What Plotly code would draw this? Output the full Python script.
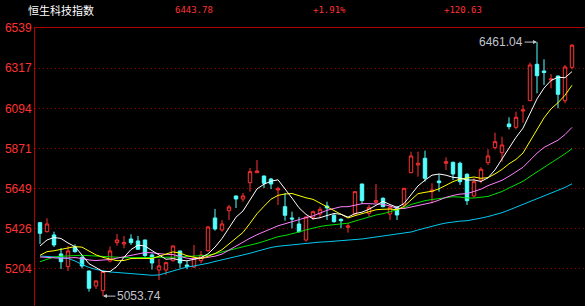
import plotly.graph_objects as go

# ---------------- data ----------------
title = "恒生科技指数"
last_price = "6443.78"
pct_change = "+1.91%"
abs_change = "+120.63"

opens = [5460.6, 5410.7, 5392.4, 5287.2, 5216.9, 5326.0, 5267.8, 5193.0, 5109.9, 5083.9,
         5248.4, 5349.8, 5342.6, 5370.3, 5359.2, 5364.7, 5281.7, 5198.6, 5198.6, 5250.1,
         5303.8, 5226.3, 5215.2, 5250.1, 5305.5, 5486.6, 5420.1, 5527.0, 5608.5, 5591.8,
         5682.1, 5737.5, 5719.2, 5702.6, 5641.7, 5549.2, 5486.6, 5453.4, 5364.7, 5490.5,
         5508.8, 5553.1, 5501.6, 5479.4, 5435.1, 5508.8, 5674.9, 5512.6, 5573.6, 5595.7,
         5508.8, 5545.9, 5558.6, 5737.5, 5780.2, 5817.3, 5632.3, 5691.5, 5789.6, 5795.1,
         5789.6, 5728.7, 5608.5, 5697.1, 5792.9, 5876.0, 5848.3, 6007.3, 5989.0, 6079.3,
         6136.3, 6337.9, 6300.8, 6251.0, 6273.1, 6136.3, 6321.3]
highs = [5465.0, 5484.9, 5410.7, 5320.4, 5331.5, 5340.9, 5278.9, 5195.8, 5143.2, 5193.0,
         5328.7, 5398.0, 5386.9, 5396.3, 5386.9, 5366.0, 5290.0, 5259.5, 5244.5, 5334.3,
         5305.0, 5250.1, 5337.0, 5303.8, 5442.3, 5536.4, 5475.5, 5558.6, 5610.0, 5625.1,
         5763.5, 5807.9, 5721.0, 5708.2, 5660.0, 5625.1, 5521.5, 5492.1, 5494.0, 5527.0,
         5549.2, 5576.9, 5512.6, 5484.9, 5457.2, 5634.0, 5676.0, 5558.6, 5674.9, 5601.2,
         5558.6, 5553.1, 5652.0, 5853.8, 5853.8, 5859.4, 5678.8, 5728.7, 5822.8, 5798.4,
         5798.4, 5734.2, 5706.5, 5767.4, 5867.1, 5959.1, 5936.9, 6044.4, 6075.4, 6112.5,
         6346.8, 6461.04, 6365.6, 6284.2, 6275.0, 6334.1, 6450.4]
lows = [5342.6, 5406.3, 5326.0, 5204.1, 5193.0, 5294.4, 5206.9, 5078.4, 5093.3, 5053.74,
        5240.1, 5333.2, 5318.8, 5337.0, 5309.3, 5270.6, 5201.3, 5143.2, 5170.9, 5244.5,
        5209.6, 5202.5, 5209.6, 5235.7, 5299.9, 5416.2, 5410.7, 5475.5, 5542.0, 5576.9,
        5632.3, 5735.9, 5652.8, 5647.2, 5558.6, 5471.6, 5429.5, 5405.2, 5355.3, 5475.5,
        5484.9, 5475.5, 5460.6, 5429.5, 5405.2, 5503.2, 5564.1, 5493.8, 5568.0, 5545.9,
        5475.5, 5475.5, 5554.7, 5734.2, 5715.4, 5687.7, 5568.0, 5632.3, 5752.5, 5697.1,
        5669.4, 5558.6, 5601.2, 5678.8, 5780.2, 5867.1, 5798.4, 5977.9, 5977.9, 6014.5,
        6134.0, 6177.3, 6223.3, 6205.0, 6094.2, 6121.9, 6310.2]
closes = [5401.8, 5453.4, 5337.0, 5244.5, 5303.8, 5299.9, 5220.7, 5097.2, 5137.6, 5190.3,
          5303.8, 5364.7, 5349.8, 5349.8, 5313.2, 5278.9, 5237.3, 5220.7, 5239.0, 5331.5,
          5237.3, 5218.0, 5265.0, 5281.7, 5436.7, 5425.7, 5453.4, 5547.5, 5591.8, 5608.5,
          5743.1, 5746.9, 5678.8, 5674.9, 5647.2, 5501.6, 5481.1, 5410.7, 5492.1, 5521.5,
          5534.8, 5542.0, 5466.1, 5471.6, 5442.3, 5632.3, 5582.4, 5545.9, 5582.4, 5549.2,
          5545.9, 5503.2, 5651.1, 5830.0, 5789.6, 5706.5, 5641.7, 5682.1, 5798.4, 5730.3,
          5687.7, 5582.4, 5687.7, 5756.4, 5830.0, 5909.2, 5890.9, 5992.3, 6044.4, 6084.8,
          6334.1, 6274.8, 6292.5, 6256.5, 6171.8, 6323.15, 6443.78]

ma5 = [5331.5, 5364.7, 5378.6, 5373.0, 5348.1, 5327.7, 5281.2, 5233.2, 5211.8, 5189.1,
       5189.9, 5218.7, 5269.2, 5311.7, 5336.3, 5331.1, 5305.8, 5280.0, 5257.8, 5261.5,
       5253.2, 5249.3, 5258.2, 5266.7, 5287.7, 5325.4, 5372.5, 5429.0, 5491.0, 5525.4,
       5588.9, 5647.6, 5673.8, 5690.4, 5698.2, 5649.9, 5596.7, 5543.1, 5506.5, 5481.4,
       5488.0, 5500.2, 5511.3, 5507.2, 5491.4, 5510.9, 5518.9, 5534.9, 5557.1, 5578.4,
       5561.2, 5545.3, 5566.4, 5615.9, 5664.0, 5696.1, 5723.8, 5730.0, 5723.7, 5711.8,
       5708.0, 5696.2, 5697.3, 5688.9, 5708.8, 5753.1, 5814.8, 5875.8, 5933.4, 5984.3,
       6069.3, 6146.1, 6206.1, 6248.5, 6265.9, 6263.8, 6297.5]
ma10 = [5280.0, 5300.0, 5305.0, 5312.0, 5320.0, 5328.0, 5325.0, 5305.0, 5282.0, 5268.6,
        5258.8, 5250.0, 5251.2, 5261.8, 5262.7, 5260.5, 5262.3, 5274.6, 5284.8, 5298.9,
        5292.2, 5277.6, 5269.1, 5262.3, 5274.6, 5289.3, 5310.9, 5343.6, 5378.9, 5406.6,
        5457.2, 5510.1, 5551.4, 5590.7, 5611.8, 5619.4, 5622.2, 5608.5, 5598.5, 5589.8,
        5569.0, 5548.5, 5527.2, 5506.9, 5486.4, 5499.5, 5509.6, 5523.1, 5532.2, 5534.9,
        5536.1, 5532.1, 5550.7, 5586.5, 5621.2, 5628.7, 5634.6, 5648.2, 5669.8, 5687.9,
        5702.1, 5710.0, 5713.7, 5706.3, 5710.3, 5730.6, 5755.5, 5786.6, 5811.2, 5846.6,
        5911.2, 5980.5, 6041.0, 6091.0, 6125.1, 6166.6, 6221.8]
ma20 = [5270.6, 5267.8, 5265.0, 5263.4, 5265.0, 5267.3, 5262.3, 5254.0, 5250.7, 5251.8,
        5256.8, 5264.0, 5272.2, 5281.7, 5290.0, 5295.0, 5293.9, 5288.3, 5285.0, 5283.8,
        5275.5, 5263.8, 5260.2, 5262.1, 5268.7, 5274.9, 5286.6, 5309.1, 5331.9, 5352.8,
        5374.7, 5393.9, 5410.3, 5426.5, 5443.2, 5454.4, 5466.6, 5476.1, 5488.7, 5498.2,
        5513.1, 5529.3, 5539.3, 5548.8, 5549.1, 5559.5, 5565.9, 5565.8, 5565.4, 5562.4,
        5552.6, 5540.3, 5539.0, 5546.7, 5553.8, 5564.1, 5572.1, 5585.7, 5601.0, 5611.4,
        5619.1, 5621.1, 5632.2, 5646.4, 5665.8, 5679.7, 5695.1, 5717.4, 5740.5, 5767.3,
        5806.7, 5845.3, 5877.4, 5898.7, 5917.7, 5948.6, 5988.7]
ma30 = [5244.5, 5259.5, 5270.6, 5274.4, 5276.1, 5278.9, 5280.0, 5277.8, 5275.0, 5271.7,
        5269.5, 5267.8, 5267.3, 5266.7, 5266.7, 5265.0, 5266.2, 5267.8, 5268.9, 5269.5,
        5271.7, 5272.8, 5274.4, 5276.1, 5280.0, 5288.8, 5298.2, 5307.0, 5314.9, 5324.7,
        5336.1, 5345.9, 5357.2, 5371.6, 5383.0, 5389.7, 5398.5, 5408.9, 5420.7, 5431.8,
        5439.5, 5445.4, 5449.2, 5453.3, 5457.6, 5469.4, 5480.9, 5491.7, 5503.2, 5510.4,
        5520.8, 5530.2, 5543.1, 5561.4, 5573.1, 5582.5, 5588.8, 5593.3, 5600.2, 5604.2,
        5602.4, 5596.9, 5597.2, 5599.9, 5606.0, 5619.6, 5633.2, 5652.6, 5671.1, 5689.8,
        5716.5, 5740.9, 5768.5, 5794.6, 5818.9, 5842.0, 5870.6]
ma60 = [5276.1, 5274.4, 5272.8, 5267.8, 5262.3, 5248.4, 5229.0, 5212.5, 5201.4, 5193.0,
        5187.5, 5184.7, 5182.0, 5176.4, 5173.1, 5170.9, 5169.3, 5170.9, 5182.0, 5195.8,
        5206.9, 5215.2, 5220.7, 5227.4, 5235.7, 5245.6, 5254.0, 5262.3, 5270.6, 5280.0,
        5291.0, 5302.1, 5313.2, 5323.2, 5329.8, 5334.3, 5337.0, 5340.4, 5344.8, 5349.2,
        5353.1, 5354.8, 5357.5, 5359.2, 5363.0, 5366.9, 5370.3, 5375.8, 5381.9, 5386.9,
        5392.4, 5396.8, 5402.3, 5409.0, 5420.1, 5431.2, 5442.2, 5450.5, 5458.9, 5464.5,
        5469.2, 5471.4, 5477.2, 5485.8, 5494.5, 5504.7, 5515.9, 5530.8, 5545.9, 5560.8,
        5578.0, 5593.1, 5608.9, 5624.0, 5638.2, 5655.7, 5675.8]

ytick_vals = [6539, 6316.5, 6094, 5871.5, 5649, 5426.5, 5204]
ytick_text = ["6539", "6317", "6094", "5871", "5649", "5426", "5204"]

# ---------------- styling ----------------
RED = "#ff3232"
CYAN = "#54ffff"
AXIS_RED = "#b00000"
GRID_RED = "#900000"
ANN_GRAY = "#c0c4cc"

x = list(range(len(closes)))

fig = go.Figure()
fig.add_trace(go.Candlestick(
    x=x, open=opens, high=highs, low=lows, close=closes,
    increasing=dict(line=dict(color=RED, width=1), fillcolor="#000000"),
    decreasing=dict(line=dict(color=CYAN, width=1), fillcolor=CYAN),
    whiskerwidth=0, showlegend=False, hoverinfo="skip",
))

for arr, col in [(ma60, "#00c8f0"), (ma30, "#00e000"), (ma20, "#ff80ff"),
                 (ma10, "#ffff00"), (ma5, "#ffffff")]:
    fig.add_trace(go.Scatter(x=x, y=arr, mode="lines",
                             line=dict(color=col, width=1),
                             hoverinfo="skip", showlegend=False))

# extreme annotations
i_hi = max(range(len(highs)), key=lambda i: highs[i])
i_lo = min(range(len(lows)), key=lambda i: lows[i])
fig.add_annotation(x=i_hi, y=highs[i_hi], text=f"{highs[i_hi]:.2f}",
                   showarrow=True, ax=-36, ay=0, arrowhead=2, arrowsize=0.8,
                   arrowwidth=1, arrowcolor=ANN_GRAY, standoff=0,
                   font=dict(family="Liberation Sans", size=12, color=ANN_GRAY))
fig.add_annotation(x=i_lo, y=lows[i_lo], text=f"{lows[i_lo]:.2f}",
                   showarrow=True, ax=36, ay=0, arrowhead=2, arrowsize=0.8,
                   arrowwidth=1, arrowcolor=ANN_GRAY, standoff=0,
                   font=dict(family="Liberation Sans", size=12, color=ANN_GRAY))

# header
W, H = 585, 306
ML, MT = 35, 28
pw, ph = W - ML, H - MT

def px_x(p):
    return (p - ML) / pw

def px_y(p):
    return 1 + (MT - p) / ph

fig.add_annotation(xref="paper", yref="paper", x=px_x(25.5), y=px_y(10),
                   xanchor="left", yanchor="middle", showarrow=False, text=title,
                   font=dict(family="Noto Sans CJK SC", size=11, color="#ffffff"))
for txt, left in [(last_price, 173), (pct_change, 310.5), (abs_change, 441.5)]:
    fig.add_annotation(xref="paper", yref="paper", x=px_x(left), y=px_y(10),
                       xanchor="left", yanchor="middle", showarrow=False, text=txt,
                       font=dict(family="DejaVu Sans Mono", size=9, color=RED))

fig.update_layout(
    width=W, height=H,
    margin=dict(l=ML, r=0, t=MT, b=0, pad=0),
    paper_bgcolor="#000000", plot_bgcolor="#000000",
    showlegend=False,
    xaxis=dict(range=[-5 / 7, -5 / 7 + pw / 7], side="top", showline=True,
               linecolor=AXIS_RED, linewidth=1, showgrid=False,
               showticklabels=False, ticks="", zeroline=False,
               rangeslider=dict(visible=False), fixedrange=True),
    yaxis=dict(range=[4999, 6539], tickvals=ytick_vals, ticktext=ytick_text,
               showgrid=True, gridcolor=GRID_RED, gridwidth=1, griddash="1px,3px",
               showline=True, linecolor=AXIS_RED, linewidth=1, ticks="",
               zeroline=False, fixedrange=True,
               tickfont=dict(family="Liberation Sans", size=12, color=RED)),
)

fig.write_html("out.html")
